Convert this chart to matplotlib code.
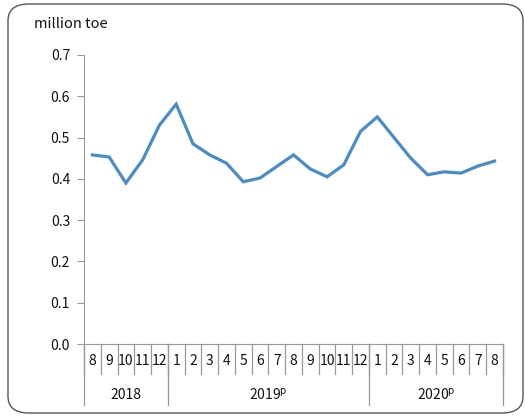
import matplotlib
matplotlib.use("Agg")
import matplotlib.pyplot as plt
from matplotlib.patches import FancyBboxPatch
from matplotlib.transforms import blended_transform_factory

months = ["8", "9", "10", "11", "12",
          "1", "2", "3", "4", "5", "6", "7", "8", "9", "10", "11", "12",
          "1", "2", "3", "4", "5", "6", "7", "8"]
years = ["2018", r"2019$^{\mathrm{p}}$", r"2020$^{\mathrm{p}}$"]
year_counts = [5, 12, 8]
values = [0.458, 0.453, 0.390, 0.446, 0.530,
          0.581, 0.485, 0.458, 0.438, 0.393, 0.402, 0.430, 0.458, 0.424, 0.405, 0.434, 0.515,
          0.550, 0.500, 0.450, 0.410, 0.417, 0.414, 0.431, 0.443]
yticks = [0.0, 0.1, 0.2, 0.3, 0.4, 0.5, 0.6, 0.7]
unit = "million toe"

plt.rcParams['font.family'] = ['Noto Sans CJK KR', 'DejaVu Sans']
W, H = 525, 417
fig = plt.figure(figsize=(W / 100, H / 100), dpi=100)

# rounded border
border = FancyBboxPatch((8 / W, 4 / H), (523 - 8) / W, (413 - 4) / H,
                        boxstyle="round,pad=0,rounding_size=0.04",
                        transform=fig.transFigure, fill=False,
                        edgecolor='#555555', linewidth=1.0)
fig.patches.append(border)

ax = fig.add_axes([84 / W, 1 - 344 / H, (503 - 84) / W, (344 - 55) / H])
n = len(values)
xs = [i + 0.5 for i in range(n)]
ax.plot(xs, values, color='#4A8CC8', linewidth=2.3, solid_joinstyle='miter')
ax.set_xlim(0, n)
ax.set_ylim(0, 0.7)
ax.set_yticks(yticks)
ax.set_yticklabels([f"{v:.1f}" for v in yticks], fontsize=10, color='#111111')
ax.tick_params(axis='y', length=5, color='#999999', pad=5)
ax.set_xticks([])
for s in ['top', 'right']:
    ax.spines[s].set_visible(False)
ax.spines['left'].set_color('#999999')
ax.spines['bottom'].set_color('#999999')

tr = blended_transform_factory(ax.transData, ax.transAxes)
ah = 344 - 55
month_bot = -(374 - 344) / ah
year_bot = -(405 - 344) / ah
month_y = -(361 - 344) / ah
year_y = -(395 - 344) / ah

# month labels and separators
for i, m in enumerate(months):
    ax.text(i + 0.5, month_y, m, transform=tr, ha='center', va='center',
            fontsize=10, color='#111111')
for i in range(n + 1):
    ax.plot([i, i], [0, month_bot], transform=tr, color='#999999',
            linewidth=0.9, clip_on=False)

# year labels and separators
start = 0
bounds = [0]
for y, c in zip(years, year_counts):
    ax.text(start + c / 2, year_y, y, transform=tr, ha='center', va='center',
            fontsize=10, color='#111111')
    start += c
    bounds.append(start)
for b in bounds:
    ax.plot([b, b], [0, year_bot], transform=tr, color='#999999',
            linewidth=0.9, clip_on=False)

fig.text(34 / W, 1 - 24 / H, unit, ha='left', va='center', fontsize=10.5,
         color='#111111')

fig.savefig("out.png", dpi=100)
